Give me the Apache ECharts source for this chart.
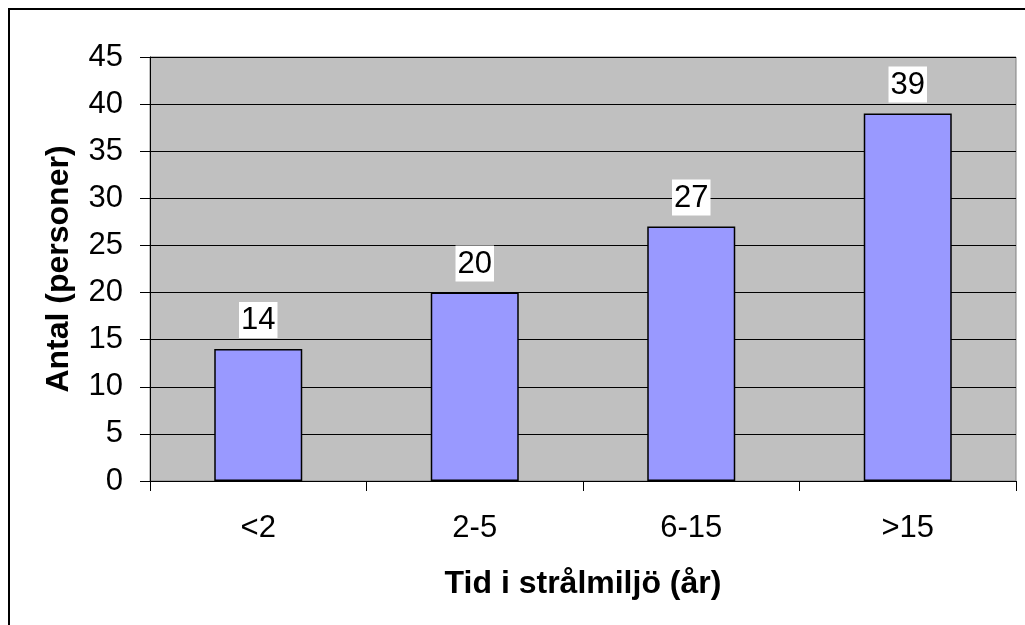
<!DOCTYPE html>
<html>
<head>
<meta charset="utf-8">
<script src="https://cdn.jsdelivr.net/npm/echarts@6/dist/echarts.min.js"></script>
<style>
html,body{margin:0;padding:0;background:#fff;}
#chart{width:1025px;height:625px;}
</style>
</head>
<body>
<div id="chart"></div>
<script>
const categories = ['<2', '2-5', '6-15', '>15'];
const values = [14, 20, 27, 39];
const yTicks = [0, 5, 10, 15, 20, 25, 30, 35, 40, 45];
const xTitle = 'Tid i strålmiljö (år)';
const yTitle = 'Antal (personer)';

const chart = echarts.init(document.getElementById('chart'), null, {renderer: 'canvas'});
const FONT = '"Liberation Sans", Arial, sans-serif';
const option = {
  animation: false,
  backgroundColor: '#ffffff',
  graphic: [
    {type: 'rect', shape: {x: 9, y: 9, width: 1100, height: 1000},
     style: {fill: 'none', stroke: '#000', lineWidth: 2}, z: 100}
  ],
  grid: {left: 150, top: 57, right: 9, bottom: 144, show: true,
    backgroundColor: '#c0c0c0', borderColor: '#808080', borderWidth: 1},
  xAxis: {
    type: 'category', data: categories,
    axisLine: {show: true, lineStyle: {color: '#000', width: 1}},
    axisTick: {show: true, inside: false, length: 10, alignWithLabel: false, lineStyle: {color: '#000'}},
    axisLabel: {color: '#000', fontFamily: FONT, fontSize: 31, margin: 32},
    name: xTitle, nameLocation: 'middle', nameGap: 87,
    nameTextStyle: {color: '#000', fontFamily: FONT, fontSize: 32, fontWeight: 'bold'},
    splitLine: {show: false}
  },
  yAxis: {
    type: 'value', min: yTicks[0], max: yTicks[yTicks.length - 1], interval: 5,
    axisLine: {show: true, lineStyle: {color: '#000', width: 1}},
    axisTick: {show: true, inside: false, length: 10, lineStyle: {color: '#000'}},
    axisLabel: {color: '#000', fontFamily: FONT, fontSize: 31, margin: 27},
    splitLine: {show: true, lineStyle: {color: '#000', width: 1}},
    name: yTitle, nameLocation: 'middle', nameGap: 75,
    nameTextStyle: {color: '#000', fontFamily: FONT, fontSize: 32, fontWeight: 'bold'}
  },
  series: [{
    type: 'bar', data: values, barWidth: 88,
    itemStyle: {color: '#9999ff', borderColor: '#000', borderWidth: 1.5},
    label: {show: true, position: 'top', distance: 11, color: '#000',
      fontFamily: FONT, fontSize: 31, backgroundColor: '#fff', padding: [3, 2, 2, 2]}
  }]
};
chart.setOption(option);
</script>
</body>
</html>
